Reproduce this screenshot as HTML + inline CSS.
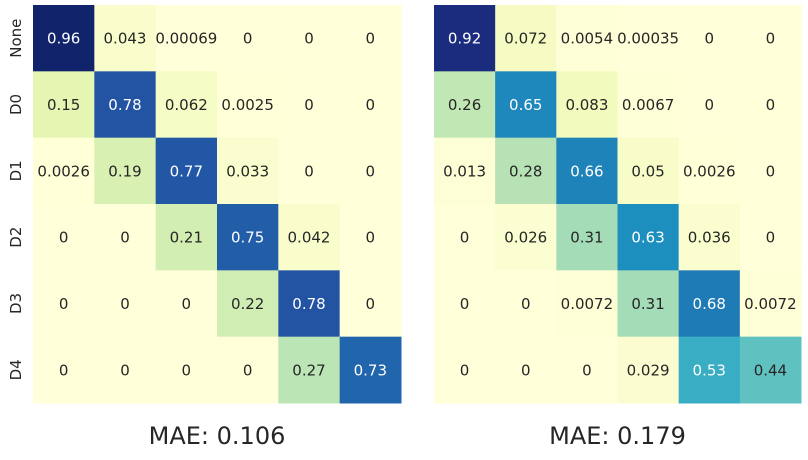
<!DOCTYPE html>
<html><head><meta charset="utf-8"><style>
body{margin:0;background:#fff;width:808px;height:455px;overflow:hidden}
svg text{font-family:"DejaVu Sans","Liberation Sans",sans-serif}
</style></head><body>
<svg id="c" width="808" height="455"></svg>
<script>
const labels=["None","D0","D1","D2","D3","D4"];
const leftValues=[
["0.96","0.043","0.00069","0","0","0"],
["0.15","0.78","0.062","0.0025","0","0"],
["0.0026","0.19","0.77","0.033","0","0"],
["0","0","0.21","0.75","0.042","0"],
["0","0","0","0.22","0.78","0"],
["0","0","0","0","0.27","0.73"]];
const rightValues=[
["0.92","0.072","0.0054","0.00035","0","0"],
["0.26","0.65","0.083","0.0067","0","0"],
["0.013","0.28","0.66","0.05","0.0026","0"],
["0","0.026","0.31","0.63","0.036","0"],
["0","0","0.0072","0.31","0.68","0.0072"],
["0","0","0","0.029","0.53","0.44"]];
const titles=["MAE: 0.106","MAE: 0.179"];
const cmap=["#ffffd9","#edf8b1","#c7e9b4","#7fcdbb","#41b6c4","#1d91c0","#225ea8","#253494","#081d58"];
function hex(h){return [1,3,5].map(i=>parseInt(h.substr(i,2),16));}
function color(v){v=Math.max(0,Math.min(1,v));const p=v*8,i=Math.min(7,Math.floor(p)),t=p-i;
const a=hex(cmap[i]),b=hex(cmap[i+1]);return a.map((x,k)=>Math.round(x+(b[k]-x)*t));}
function lum(c){const l=c.map(x=>{x/=255;return x<=0.03928?x/12.92:Math.pow((x+0.055)/1.055,2.4)});return 0.2126*l[0]+0.7152*l[1]+0.0722*l[2];}
const svg=document.getElementById('c');const NS="http://www.w3.org/2000/svg";
function el(t,a){const e=document.createElementNS(NS,t);for(const k in a)e.setAttribute(k,a[k]);svg.appendChild(e);return e;}
const gridTop=5,gridBottom=403,rh=(gridBottom-gridTop)/6;
function yPos(i){return gridTop+i*rh;}
function draw(vals,x0,x1,title,name){
 const cw=(x1-x0)/6;
 vals.forEach((row,i)=>row.forEach((s,j)=>{
  const v=parseFloat(s),c=color(v);
  const r=el('rect',{x:x0+j*cw,y:yPos(i),width:cw+0.5,height:rh+0.5,fill:`rgb(${c})`});
  
  
  const t=el('text',{x:x0+(j+0.5)*cw,y:yPos(i)+rh/2+5.5,'text-anchor':'middle','font-size':'15',fill:lum(c)<0.408?'#fff':'#262626'});
  t.textContent=s;
  
  
 }));
 const tt=el('text',{x:(x0+x1)/2,y:444,'text-anchor':'middle','font-size':'24',fill:'#262626'});
 tt.textContent=title;
 
 
}
draw(leftValues,33,401,titles[0],'left-heatmap');
draw(rightValues,434,801,titles[1],'right-heatmap');
labels.forEach((l,i)=>{
 const y=yPos(i)+rh/2;
 const t=el('text',{x:0,y:0,transform:`translate(21,${y}) rotate(-90)`,'text-anchor':'middle','font-size':'15',fill:'#262626'});
 t.textContent=l;
 
 
});
</script>
</body></html>
